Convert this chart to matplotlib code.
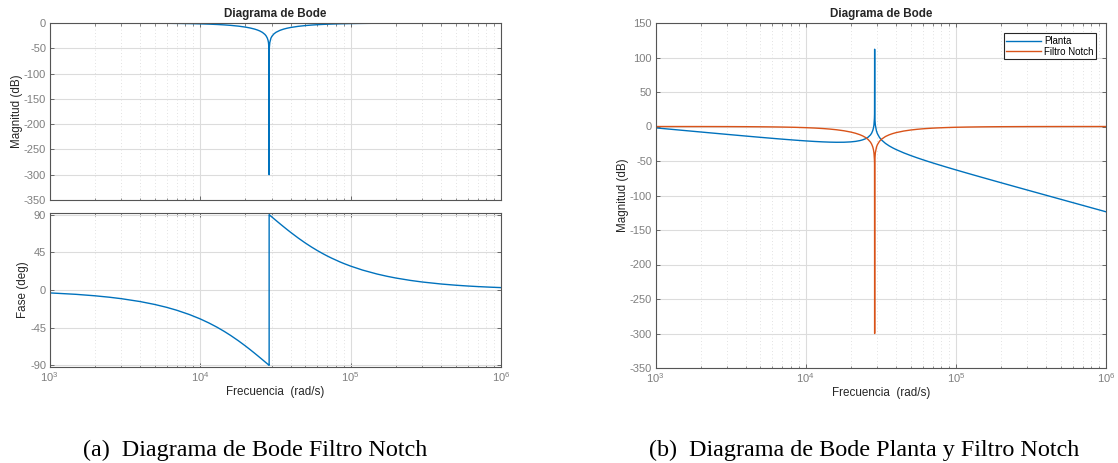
import matplotlib
matplotlib.use("Agg")
import matplotlib.pyplot as plt
from matplotlib.ticker import LogLocator, NullFormatter, FixedLocator

plt.rcParams['font.family'] = ['Liberation Sans', 'DejaVu Sans']
plt.rcParams['axes.unicode_minus'] = False

freq = [1e3, 1.5e3, 2e3, 2.5e3, 3e3, 4e3, 5e3, 6e3, 7e3, 8.5e3, 1e4, 1.15e4, 1.3e4,
        1.45e4, 1.6e4, 1.8e4, 2e4, 2.15e4, 2.3e4, 2.4e4, 2.5e4, 2.6e4, 2.7e4, 2.75e4,
        2.8e4, 2.83e4, 2.85e4, 2.87e4, 2.875e4, 2.88e4, 2.885e4, 2.89e4, 2.91e4,
        2.96e4, 3.0e4, 3.1e4, 3.2e4, 3.4e4, 3.6e4, 3.8e4, 4e4, 4.5e4, 5e4, 5.5e4,
        6e4, 6.5e4, 7e4, 7.5e4, 8.5e4, 9e4, 1e5, 1.2e5, 1.5e5, 1.75e5, 2e5, 2.5e5,
        3e5, 4e5, 5e5, 6e5, 7e5, 8.5e5, 1e6]

# Notch filter magnitude (dB)
notch_mag = [-0.02, -0.04, -0.06, -0.10, -0.14, -0.26, -0.40, -0.58, -0.80, -1.19,
             -1.68, -2.25, -2.94, -3.75, -4.69, -6.20, -8.08, -9.81, -11.95, -13.70,
             -15.84, -18.62, -22.6, -25.49, -29.8, -33.92, -38.4, -48.0, -54.1, -300.0,
             -53.9, -47.9, -38.4, -30.0, -26.56, -21.5, -18.36, -14.5, -12.01, -10.24,
             -8.89, -6.57, -5.10, -4.10, -3.37, -2.82, -2.40, -2.07, -1.59, -1.41,
             -1.13, -0.78, -0.49, -0.36, -0.27, -0.18, -0.12, -0.07, -0.04, -0.03,
             -0.02, -0.02, -0.01]

# Plant magnitude (dB)
plant_mag = [-1.97, -5.48, -7.96, -9.88, -11.43, -13.86, -15.70, -17.16, -18.36,
             -19.78, -20.87, -21.69, -22.28, -22.67, -22.86, -22.79, -22.29, -21.56,
             -20.40, -19.29, -17.78, -15.63, -12.27, -9.68, -5.70, -1.75, 2.61, 12.1,
             18.15, 112.0, 17.9, 11.9, 2.30, -6.43, -10.13, -15.82, -19.50, -24.52,
             -28.12, -30.98, -33.39, -38.23, -42.05, -45.25, -48.02, -50.49, -52.71,
             -54.73, -58.32, -59.93, -62.86, -67.85, -73.85, -77.95, -81.49, -87.37,
             -92.16, -99.69, -105.52, -110.28, -114.30, -119.37, -123.60]

# Notch filter phase (deg); the notch frequency appears twice for the jump
phase_freq = [1e3, 1.5e3, 2e3, 2.5e3, 3e3, 4e3, 5e3, 6e3, 7e3, 8.5e3, 1e4, 1.15e4,
              1.3e4, 1.45e4, 1.6e4, 1.8e4, 2e4, 2.15e4, 2.3e4, 2.4e4, 2.5e4, 2.6e4,
              2.7e4, 2.75e4, 2.8e4, 2.83e4, 2.85e4, 2.87e4, 2.875e4, 2.88e4, 2.88e4,
              2.885e4, 2.89e4, 2.91e4, 2.96e4, 3.0e4, 3.1e4, 3.2e4, 3.4e4, 3.6e4,
              3.8e4, 4e4, 4.5e4, 5e4, 5.5e4, 6e4, 6.5e4, 7e4, 7.5e4, 8.5e4, 9e4, 1e5,
              1.2e5, 1.5e5, 1.75e5, 2e5, 2.5e5, 3e5, 4e5, 5e5, 6e5, 7e5, 8.5e5, 1e6]
notch_phase = [-3.45, -5.18, -6.91, -8.63, -10.36, -13.81, -17.27, -20.71, -24.16,
               -29.31, -34.43, -39.52, -44.54, -49.50, -54.37, -60.68, -66.76, -71.14,
               -75.36, -78.08, -80.71, -83.27, -85.75, -86.95, -88.14, -88.85, -89.31,
               -89.77, -89.89, -90.0, 90.0, 89.88, 89.77, 89.31, 88.19, 87.30, 85.15,
               83.07, 79.12, 75.47, 72.07, 68.93, 62.02, 56.25, 51.40, 47.28, 43.75,
               40.69, 38.03, 33.60, 31.75, 28.60, 23.85, 19.09, 16.37, 14.32, 11.46,
               9.55, 7.16, 5.73, 4.77, 4.09, 3.37, 2.86]

mag_ticks_left = [0, -50, -100, -150, -200, -250, -300, -350]
phase_ticks = [-90, -45, 0, 45, 90]
mag_ticks_right = [150, 100, 50, 0, -50, -100, -150, -200, -250, -300, -350]
series_names = ['Planta', 'Filtro Notch']
captions = ['(a)  Diagrama de Bode Filtro Notch', '(b)  Diagrama de Bode Planta y Filtro Notch']

BLUE = '#0072BD'
ORANGE = '#D95319'
TICKC = '#7f7f7f'
TXT = '#262626'
W, H = 1118, 463
LBL = 8.4
TCK = 8

fig = plt.figure(figsize=(W / 100, H / 100), dpi=100)


def px_axes(x0, y0, x1, y1):
    return fig.add_axes([x0 / W, 1 - y1 / H, (x1 - x0) / W, (y1 - y0) / H])


def style(ax, xlabels=True):
    ax.set_xscale('log')
    ax.set_xlim(1e3, 1e6)
    ax.xaxis.set_major_locator(LogLocator(base=10, numticks=10))
    ax.xaxis.set_minor_locator(LogLocator(base=10, subs=range(2, 10), numticks=100))
    ax.xaxis.set_minor_formatter(NullFormatter())
    if not xlabels:
        ax.xaxis.set_major_formatter(NullFormatter())
    ax.grid(True, which='major', color='#dcdcdc', linewidth=0.8, linestyle='-')
    ax.grid(True, which='minor', color='#d8d8d8', linewidth=0.6, linestyle=(0, (1, 3)))
    ax.set_axisbelow(True)
    ax.tick_params(which='both', direction='in', top=True, right=True,
                   colors='#555555', labelcolor=TICKC, labelsize=TCK)
    ax.tick_params(which='major', length=3, width=0.6, pad=2.5)
    ax.tick_params(which='minor', length=1.8, width=0.5)
    for s in ax.spines.values():
        s.set_color('#555555')
        s.set_linewidth(0.8)


# ---- Left: notch filter magnitude ----
ax1 = px_axes(49.5, 23, 501, 200)
ax1.plot(freq, notch_mag, color=BLUE, linewidth=1.0)
style(ax1, xlabels=False)
ax1.set_ylim(-350, 0)
ax1.yaxis.set_major_locator(FixedLocator(mag_ticks_left))
ax1.set_ylabel('Magnitud (dB)', fontsize=LBL, color=TXT, labelpad=0.5)
ax1.set_title('Diagrama de Bode', fontsize=LBL, fontweight='bold', color=TXT, pad=4)

# ---- Left: notch filter phase ----
ax2 = px_axes(49.5, 213, 501, 367)
ax2.plot(phase_freq, notch_phase, color=BLUE, linewidth=1.0)
style(ax2)
ax2.set_ylim(-92, 92)
ax2.yaxis.set_major_locator(FixedLocator(phase_ticks))
ax2.set_ylabel('Fase (deg)', fontsize=LBL, color=TXT, labelpad=0.5)
ax2.set_xlabel('Frecuencia  (rad/s)', fontsize=LBL, color=TXT, labelpad=1.5)

# ---- Right: plant and notch magnitude ----
ax3 = px_axes(655.5, 23, 1106, 368)
ax3.plot(freq, plant_mag, color=BLUE, linewidth=1.0, label=series_names[0])
ax3.plot(freq, notch_mag, color=ORANGE, linewidth=1.0, label=series_names[1])
style(ax3)
ax3.set_ylim(-350, 150)
ax3.yaxis.set_major_locator(FixedLocator(mag_ticks_right))
ax3.set_ylabel('Magnitud (dB)', fontsize=LBL, color=TXT, labelpad=0.5)
ax3.set_xlabel('Frecuencia  (rad/s)', fontsize=LBL, color=TXT, labelpad=1.5)
ax3.set_title('Diagrama de Bode', fontsize=LBL, fontweight='bold', color=TXT, pad=4)
leg = ax3.legend(loc='upper right', fontsize=7, fancybox=False, framealpha=1,
                 edgecolor='#262626', borderpad=0.25, labelspacing=0.1,
                 handlelength=3.6, handletextpad=0.3, borderaxespad=0.9,
                 bbox_to_anchor=(0.997, 0.995))
leg.get_frame().set_linewidth(0.8)

# ---- Captions ----
fig.text(255.5 / W, 1 - 450 / H, captions[0], fontsize=17.4, family='Liberation Serif',
         ha='center', va='center', color='black')
fig.text(864 / W, 1 - 450 / H, captions[1], fontsize=17.4, family='Liberation Serif',
         ha='center', va='center', color='black')

fig.savefig('out.png', dpi=100)
